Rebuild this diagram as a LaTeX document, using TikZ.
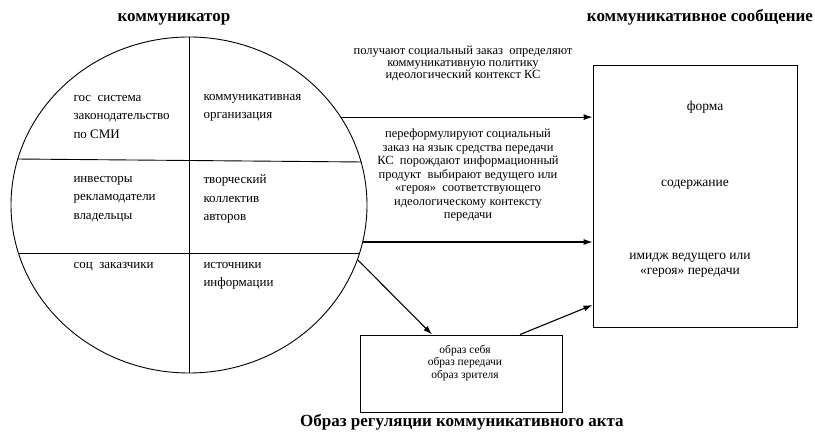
\documentclass[tikz,border=0pt]{standalone}
\usepackage{fontspec}
\setmainfont{Liberation Serif}
\usetikzlibrary{shapes.geometric,arrows.meta}
\tikzset{
  arr/.style={-{Latex[length=9pt,width=6pt]},line width=1.1pt},
  cell/.style={anchor=west,align=left,font=\fontsize{13}{18.5}\selectfont},
  note/.style={align=center,font=\fontsize{12.5}{13.5}\selectfont},
  boxtext/.style={align=center,font=\fontsize{13.5}{15}\selectfont},
  title/.style={font=\fontsize{17}{19}\selectfont\bfseries}
}

\begin{document}
\begin{tikzpicture}[x=1pt,y=-1pt]
\useasboundingbox (0,0) rectangle (815,435);
% communicator
\node[ellipse,draw,line width=0.9pt,minimum width=356pt,minimum height=336pt,inner sep=0pt] (comm) at (189,205) {};
\draw[line width=0.9pt] (comm.north) -- (comm.south);
\draw[line width=0.9pt] (comm.165.5) -- (comm.14.5);
\draw[line width=0.9pt] (comm.-16) -- (comm.196);
\node[title] (commt) at (174,19) {коммуникатор};
\node[cell] (gos) at (70,117) {гос\ \ система\\законодательство\\по СМИ};
\node[cell] (org) at (200,108) {коммуникативная\\организация};
\node[cell] (inv) at (70,199) {инвесторы\\рекламодатели\\владельцы};
\node[cell] (tvor) at (200,199) {творческий\\коллектив\\авторов};
\node[cell] (soc) at (70,267) {соц\ \ заказчики};
\node[cell] (ist) at (200,276) {источники\\информации};
% message
\node[draw,line width=0.9pt,minimum width=204pt,minimum height=262pt] (msg) at (695,196) {};
\node[title] (msgt) at (700,17) {коммуникативное сообщение};
\node[boxtext] (forma) at (705,107) {форма};
\node[boxtext] (sod) at (695,185) {содержание};
\node[boxtext] (imid) at (690,265) {имидж ведущего или\\«героя» передачи};
% arrows with notes
\draw[arr] (comm.30.3) -- (comm.30.3 -| msg.west);
\node[note,font=\fontsize{12.5}{12}\selectfont] (n1) at (463,63) {получают социальный заказ\ \ определяют\\коммуникативную политику\\идеологический контекст КС};
\draw[arr] (comm.-12) -- (comm.-12 -| msg.west);
\node[note] (n2) at (468,175) {переформулируют социальный\\заказ на язык средства передачи\\КС\ \ порождают информационный\\продукт\ \ выбирают ведущего или\\«героя»\ \ соответствующего\\идеологическому контексту\\передачи};
% images
\node[draw,line width=0.9pt,minimum width=202pt,minimum height=77pt] (img) at (461,373.5) {};
\node[note,font=\fontsize{11.5}{12.5}\selectfont] (imgt) at (465,363) {образ себя\\образ передачи\\образ зрителя};
\draw[arr] (comm.-18.5) -- ([xshift=-29pt]img.north);
\draw[arr] ([xshift=59pt]img.north) -- ([yshift=-109pt]msg.west);
\node[title] (regt) at (462,422) {Образ регуляции коммуникативного акта};
\end{tikzpicture}
\end{document}
